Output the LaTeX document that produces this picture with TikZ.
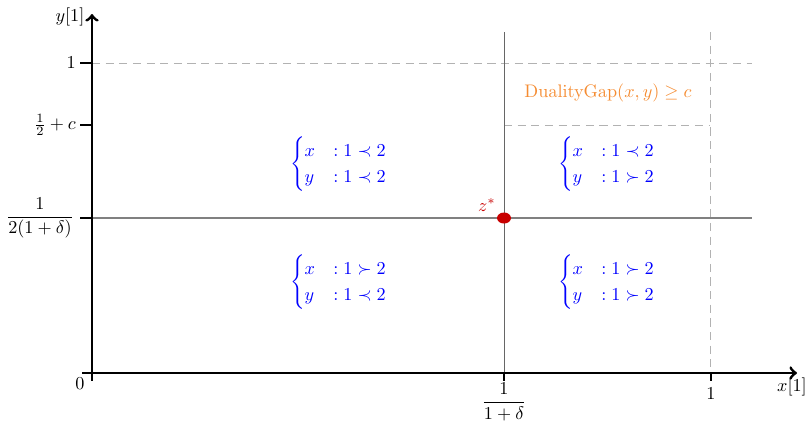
\documentclass[tikz,border=0pt]{standalone}
\usepackage{amsmath,amssymb}
\begin{document}
\begin{tikzpicture}[x=0.55pt,y=-0.55pt,
  axisline/.style={line width=1.6pt,->},
  tickline/.style={line width=1.6pt},
  gridsolid/.style={gray,line width=0.6pt},
  griddash/.style={gray!60,line width=0.55pt,dash pattern=on 4.5pt off 3pt},
  region/.style={blue},
  lbl/.style={inner sep=1pt}]
\useasboundingbox (0,0) rectangle (808,426);
\definecolor{gaporange}{RGB}{245,140,50}
\definecolor{zred}{RGB}{200,0,0}
% coordinates
\coordinate (O) at (92,373);
\coordinate (xend) at (797,373);
\coordinate (xstart) at (82,373);
\coordinate (ystart) at (92,380);
\coordinate (yend) at (92,14);
% grid lines
\coordinate (h1l) at (92,63);  \coordinate (h1r) at (752,63);
\coordinate (hcl) at (504,125); \coordinate (hcr) at (710,125);
\coordinate (hml) at (92,218); \coordinate (hmr) at (752,218);
\coordinate (vdt) at (504,32); \coordinate (vdb) at (504,373);
\coordinate (v1t) at (710,32); \coordinate (v1b) at (710,373);
\draw[griddash] (h1l) -- (h1r);
\draw[griddash] (hcl) -- (hcr);
\draw[griddash] (v1t) -- (v1b);
\draw[gridsolid] (hml) -- (hmr);
\draw[gray!80!black,line width=0.4pt] (vdt) -- (vdb);
% axes
\draw[axisline] (xstart) -- (xend);
\draw[axisline] (ystart) -- (yend);
% y ticks
\coordinate (ty1) at (80,63);  \coordinate (ty1e) at (92,63);
\coordinate (tyc) at (80,125); \coordinate (tyce) at (92,125);
\coordinate (tym) at (80,218); \coordinate (tyme) at (92,218);
\draw[tickline] (ty1) -- (ty1e);
\draw[tickline] (tyc) -- (tyce);
\draw[tickline] (tym) -- (tyme);
% x ticks
\coordinate (txd) at (504,373); \coordinate (txde) at (504,381);
\coordinate (tx1) at (711,373); \coordinate (tx1e) at (711,381);
\coordinate (tx0) at (92,373); \coordinate (tx0e) at (92,381);
\draw[tickline] (txd) -- (txde);
\draw[tickline] (tx1) -- (tx1e);
\draw[tickline] (tx0) -- (tx0e);
% labels
\node[lbl,anchor=east] (ylab1) at (78,63) {$1$};
\node[lbl,anchor=east] (ylabc) at (78,125) {$\frac{1}{2}+c$};
\node[lbl,anchor=east] (ylabm) at (76,218) {$\dfrac{1}{2(1+\delta)}$};
\node[lbl] (ylab) at (70,17) {$y[1]$};
\node[lbl] (xlab) at (792,387) {$x[1]$};
\node[lbl] (zero) at (80,384) {$0$};
\node[lbl] (xlabd) at (504,402) {$\dfrac{1}{1+\delta}$};
\node[lbl] (xlab1) at (711,394) {$1$};
% regions
\node[region] (rul) at (339,164) {$\begin{cases} x & :1\prec 2\\ y & :1\prec 2\end{cases}$};
\node[region] (rur) at (607,164) {$\begin{cases} x & :1\prec 2\\ y & :1\succ 2\end{cases}$};
\node[region] (rll) at (339,282) {$\begin{cases} x & :1\succ 2\\ y & :1\prec 2\end{cases}$};
\node[region] (rlr) at (607,282) {$\begin{cases} x & :1\succ 2\\ y & :1\succ 2\end{cases}$};
\node[text=gaporange] (gap) at (608,93) {$\mathrm{DualityGap}(x,y)\geq c$};
% z*
\fill[zred] (504,218) ellipse (7 and 5.5);
\node[text=zred] (zstar) at (487,205) {$z^*$};
\end{tikzpicture}
\end{document}
